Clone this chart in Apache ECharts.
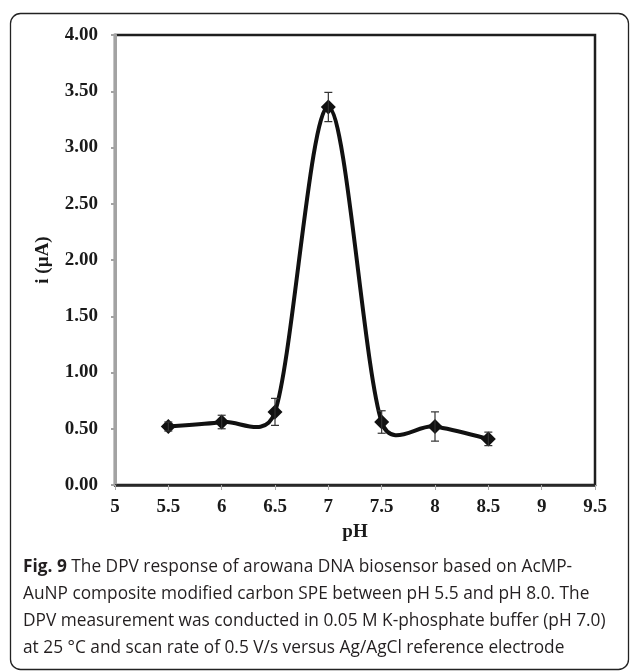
<!DOCTYPE html>
<html>
<head>
<meta charset="utf-8">
<script src="https://cdn.jsdelivr.net/npm/echarts@6/dist/echarts.min.js"></script>
<style>
  html, body { margin: 0; padding: 0; background: #fff; }
  #chart { width: 630px; height: 672px; }
</style>
</head>
<body>
<div id="chart"></div>
<script>
// pH of the buffer and the DPV peak current measured at each one
const phValues = [5.5, 6, 6.5, 7, 7.5, 8, 8.5];
const currentUA = [0.52, 0.56, 0.65, 3.36, 0.56, 0.52, 0.41];
const currentErr = [0.04, 0.06, 0.12, 0.13, 0.10, 0.13, 0.06];

const captionLines = [
  ['Fig. 9', ' The DPV response of arowana DNA biosensor based on AcMP-'],
  ['', 'AuNP composite modified carbon SPE between pH 5.5 and pH 8.0. The'],
  ['', 'DPV measurement was conducted in 0.05 M K-phosphate buffer (pH 7.0)'],
  ['', 'at 25 °C and scan rate of 0.5 V/s versus Ag/AgCl reference electrode']
];

const chart = echarts.init(document.getElementById('chart'));

const serif = '"Liberation Serif", "Times New Roman", serif';
const sans = '"Open Sans", "Noto Sans", sans-serif';

const pointData = phValues.map((p, i) => [p, currentUA[i]]);
const errData = phValues.map((p, i) => [p, currentUA[i] - currentErr[i], currentUA[i] + currentErr[i]]);

// Spreadsheet-style smoothed curve: cubic Bezier segments whose tangents follow
// the neighbouring points, damped where adjacent segments differ a lot in length.
function smoothPath(pts) {
  const n = pts.length;
  const dist = (a, b) => Math.hypot(b[0] - a[0], b[1] - a[1]);
  const tangentPart = (i, side) => {
    const prev = pts[Math.max(i - 1, 0)];
    const next = pts[Math.min(i + 1, n - 1)];
    const d0 = i > 0 ? dist(pts[i - 1], pts[i]) : dist(pts[i], pts[i + 1]);
    const d1 = i < n - 1 ? dist(pts[i], pts[i + 1]) : d0;
    const dSide = side < 0 ? d0 : d1;
    const f = Math.min(1, Math.sqrt(2 * dSide / (d0 + d1)));
    return [(next[0] - prev[0]) / 6 * f, (next[1] - prev[1]) / 6 * f];
  };
  let d = 'M' + pts[0][0] + ' ' + pts[0][1];
  for (let i = 0; i < n - 1; i++) {
    const t0 = tangentPart(i, 1);
    const t1 = tangentPart(i + 1, -1);
    const c1 = [pts[i][0] + t0[0], pts[i][1] + t0[1]];
    const c2 = [pts[i + 1][0] - t1[0], pts[i + 1][1] - t1[1]];
    d += ' C' + c1[0] + ' ' + c1[1] + ' ' + c2[0] + ' ' + c2[1] + ' ' + pts[i + 1][0] + ' ' + pts[i + 1][1];
  }
  return d;
}

const captionGraphics = captionLines.map((parts, i) => ({
  type: 'text',
  left: 23,
  top: 559 + i * 27,
  style: {
    text: (parts[0] ? '{b|' + parts[0] + '}' : '') + '{r|' + parts[1] + '}',
    rich: {
      b: { fontFamily: sans, fontWeight: 'bold', fontSize: 17.3, fill: '#231f20' },
      r: { fontFamily: sans, fontSize: 17.3, fill: '#231f20' }
    }
  }
}));

chart.setOption({
  animation: false,
  backgroundColor: '#fff',
  grid: {
    left: 115, top: 35, right: 35, bottom: 187,
    show: true, borderColor: '#1e1e1e', borderWidth: 2.5, backgroundColor: 'transparent'
  },
  xAxis: {
    type: 'value', min: 5, max: 9.5, interval: 0.5,
    name: 'pH', nameLocation: 'middle', nameGap: 38,
    nameTextStyle: { fontFamily: serif, fontWeight: 'bold', fontSize: 19, color: '#1a1a1a' },
    axisLine: { show: true, lineStyle: { color: '#2a2a2a', width: 2.5 } },
    axisTick: { show: true, inside: false, length: 5, lineStyle: { color: '#aaa', width: 1 } },
    splitLine: { show: false },
    axisLabel: {
      fontFamily: serif, fontWeight: 'bold', fontSize: 19, color: '#1a1a1a', margin: 13,
      formatter: v => String(Math.round(v * 10) / 10)
    }
  },
  yAxis: {
    type: 'value', min: 0, max: 4, interval: 0.5,
    name: 'i (µA)', nameLocation: 'middle', nameGap: 62, nameRotate: 90,
    nameTextStyle: { fontFamily: serif, fontWeight: 'bold', fontSize: 19, color: '#1a1a1a' },
    axisLine: { show: true, lineStyle: { color: '#a3a3a3', width: 3 } },
    axisTick: { show: true, inside: false, length: 4, lineStyle: { color: '#a3a3a3', width: 2 } },
    splitLine: { show: false },
    axisLabel: {
      fontFamily: serif, fontWeight: 'bold', fontSize: 19, color: '#1a1a1a', margin: 17,
      formatter: v => v.toFixed(2)
    }
  },
  graphic: [
    {
      type: 'rect', z: -10,
      shape: { x: 10.5, y: 13.5, width: 618, height: 656, r: 10 },
      style: { fill: 'none', stroke: '#222', lineWidth: 1.3 }
    }
  ].concat(captionGraphics),
  series: [
    {
      // smoothed curve through all measurements, drawn once through the axis scales
      type: 'custom',
      data: [0],
      z: 2,
      silent: true,
      renderItem: (params, api) => {
        const pts = phValues.map((p, i) => api.coord([p, currentUA[i]]));
        return {
          type: 'path',
          shape: { pathData: smoothPath(pts) },
          style: { fill: 'none', stroke: '#111', lineWidth: 4 }
        };
      }
    },
    {
      type: 'scatter',
      data: pointData,
      symbol: 'diamond',
      symbolSize: 15,
      itemStyle: { color: '#111', opacity: 1 },
      z: 3
    },
    {
      type: 'custom',
      data: errData,
      z: 4,
      renderItem: (params, api) => {
        const x = api.value(0);
        const lo = api.coord([x, api.value(1)]);
        const hi = api.coord([x, api.value(2)]);
        const cap = 4;
        const style = { stroke: '#333', lineWidth: 1.2 };
        return {
          type: 'group',
          children: [
            { type: 'line', shape: { x1: lo[0], y1: lo[1], x2: hi[0], y2: hi[1] }, style },
            { type: 'line', shape: { x1: lo[0] - cap, y1: lo[1], x2: lo[0] + cap, y2: lo[1] }, style },
            { type: 'line', shape: { x1: hi[0] - cap, y1: hi[1], x2: hi[0] + cap, y2: hi[1] }, style }
          ]
        };
      }
    }
  ]
});
</script>
</body>
</html>
